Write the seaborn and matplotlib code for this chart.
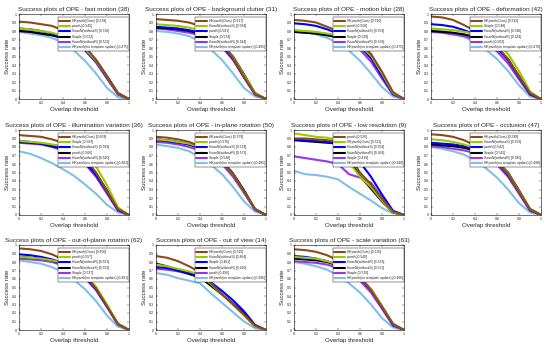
import matplotlib
matplotlib.use('Agg')
import matplotlib.pyplot as plt
import pandas as pd
import numpy as np
import seaborn as sns

thresholds = [0.0, 0.1, 0.2, 0.3, 0.4, 0.5, 0.6, 0.7, 0.8, 0.9, 1.0]

# colours are given by rank, like the OTB toolkit
rank_colors = ['#8c4a1c', '#99cc00', '#0000ff', '#000000', '#9933ee', '#80bfea']

OURS = 'HKpanth(Ours)'
PANTH = 'panth'
HS = 'HoanN(withoutS)'
HR = 'HoanN(withoutR)'
STAPLE = 'Staple'
NOUPD = 'HKpanth(no template update)'

# ---- fast motion
fm_title = 'Success plots of OPE - fast motion (38)'
fm_names = [OURS, PANTH, HS, STAPLE, HR, NOUPD]
fm_scores = [0.578, 0.545, 0.536, 0.532, 0.532, 0.475]
fm_curves = [
    [0.91, 0.90, 0.88, 0.86, 0.81, 0.74, 0.62, 0.46, 0.26, 0.06, 0],
    [0.83, 0.82, 0.80, 0.78, 0.74, 0.68, 0.59, 0.45, 0.26, 0.06, 0],
    [0.83, 0.82, 0.80, 0.77, 0.73, 0.67, 0.58, 0.44, 0.25, 0.06, 0],
    [0.80, 0.79, 0.77, 0.75, 0.72, 0.67, 0.59, 0.46, 0.27, 0.07, 0],
    [0.80, 0.79, 0.77, 0.75, 0.71, 0.66, 0.57, 0.43, 0.24, 0.05, 0],
    [0.79, 0.77, 0.75, 0.72, 0.66, 0.57, 0.45, 0.30, 0.13, 0.02, 0],
]

# ---- background clutter
bc_title = 'Success plots of OPE - background clutter (31)'
bc_names = [OURS, HS, PANTH, STAPLE, HR, NOUPD]
bc_scores = [0.617, 0.584, 0.581, 0.574, 0.544, 0.495]
bc_curves = [
    [0.94, 0.93, 0.92, 0.90, 0.86, 0.78, 0.66, 0.48, 0.26, 0.06, 0],
    [0.88, 0.87, 0.86, 0.84, 0.81, 0.75, 0.65, 0.49, 0.28, 0.07, 0],
    [0.85, 0.84, 0.83, 0.81, 0.78, 0.73, 0.63, 0.47, 0.26, 0.06, 0],
    [0.84, 0.83, 0.82, 0.80, 0.77, 0.72, 0.64, 0.50, 0.29, 0.07, 0],
    [0.83, 0.82, 0.80, 0.78, 0.75, 0.70, 0.61, 0.46, 0.25, 0.05, 0],
    [0.80, 0.79, 0.77, 0.74, 0.68, 0.58, 0.46, 0.30, 0.13, 0.03, 0],
]

# ---- motion blur
mb_title = 'Success plots of OPE - motion blur (28)'
mb_names = [OURS, PANTH, HS, STAPLE, HR, NOUPD]
mb_scores = [0.590, 0.558, 0.553, 0.539, 0.538, 0.475]
mb_curves = [
    [0.93, 0.92, 0.90, 0.85, 0.80, 0.74, 0.66, 0.53, 0.32, 0.08, 0],
    [0.81, 0.80, 0.79, 0.77, 0.75, 0.71, 0.63, 0.51, 0.30, 0.07, 0],
    [0.89, 0.88, 0.86, 0.82, 0.77, 0.71, 0.62, 0.48, 0.27, 0.06, 0],
    [0.79, 0.78, 0.77, 0.75, 0.73, 0.69, 0.62, 0.50, 0.30, 0.07, 0],
    [0.79, 0.78, 0.77, 0.75, 0.72, 0.67, 0.58, 0.44, 0.24, 0.05, 0],
    [0.81, 0.79, 0.76, 0.72, 0.66, 0.57, 0.45, 0.30, 0.14, 0.03, 0],
]

# ---- deformation
df_title = 'Success plots of OPE - deformation (42)'
df_names = [OURS, STAPLE, HS, HR, PANTH, NOUPD]
df_scores = [0.592, 0.548, 0.546, 0.544, 0.503, 0.478]
df_curves = [
    [0.97, 0.96, 0.93, 0.87, 0.80, 0.72, 0.62, 0.47, 0.27, 0.07, 0],
    [0.83, 0.82, 0.81, 0.79, 0.77, 0.73, 0.66, 0.53, 0.33, 0.09, 0],
    [0.88, 0.87, 0.85, 0.81, 0.76, 0.69, 0.60, 0.46, 0.26, 0.06, 0],
    [0.80, 0.79, 0.78, 0.76, 0.73, 0.68, 0.60, 0.47, 0.27, 0.06, 0],
    [0.79, 0.78, 0.76, 0.74, 0.70, 0.65, 0.56, 0.42, 0.23, 0.05, 0],
    [0.82, 0.80, 0.77, 0.73, 0.67, 0.58, 0.47, 0.33, 0.16, 0.03, 0],
]

# ---- illumination variation
iv_title = 'Success plots of OPE - illumination variation (36)'
iv_names = [OURS, STAPLE, HS, PANTH, HR, NOUPD]
iv_scores = [0.603, 0.593, 0.569, 0.566, 0.540, 0.403]
iv_curves = [
    [0.94, 0.93, 0.92, 0.89, 0.85, 0.78, 0.67, 0.50, 0.28, 0.07, 0],
    [0.87, 0.86, 0.85, 0.83, 0.81, 0.77, 0.70, 0.57, 0.35, 0.09, 0],
    [0.87, 0.86, 0.84, 0.82, 0.78, 0.72, 0.62, 0.47, 0.27, 0.06, 0],
    [0.86, 0.85, 0.84, 0.81, 0.78, 0.72, 0.63, 0.49, 0.29, 0.07, 0],
    [0.85, 0.84, 0.83, 0.80, 0.76, 0.70, 0.60, 0.45, 0.25, 0.05, 0],
    [0.75, 0.72, 0.67, 0.61, 0.54, 0.46, 0.36, 0.25, 0.12, 0.03, 0],
]

# ---- in-plane rotation
ipr_title = 'Success plots of OPE - in-plane rotation (50)'
ipr_names = [OURS, PANTH, HS, HR, STAPLE, NOUPD]
ipr_scores = [0.579, 0.576, 0.574, 0.573, 0.548, 0.485]
ipr_curves = [
    [0.92, 0.91, 0.89, 0.86, 0.81, 0.74, 0.63, 0.48, 0.27, 0.07, 0],
    [0.89, 0.88, 0.86, 0.84, 0.80, 0.73, 0.63, 0.48, 0.27, 0.07, 0],
    [0.88, 0.87, 0.85, 0.83, 0.79, 0.73, 0.63, 0.48, 0.28, 0.07, 0],
    [0.89, 0.88, 0.86, 0.83, 0.79, 0.73, 0.64, 0.49, 0.29, 0.07, 0],
    [0.86, 0.85, 0.83, 0.80, 0.76, 0.70, 0.60, 0.45, 0.26, 0.06, 0],
    [0.83, 0.81, 0.79, 0.75, 0.68, 0.59, 0.48, 0.33, 0.16, 0.04, 0],
]

# ---- low resolution
lr_title = 'Success plots of OPE - low resolution (9)'
lr_names = [PANTH, OURS, HS, HR, STAPLE, NOUPD]
lr_scores = [0.526, 0.511, 0.508, 0.492, 0.418, 0.348]
lr_curves = [
    [0.90, 0.90, 0.89, 0.88, 0.86, 0.70, 0.50, 0.36, 0.19, 0.04, 0],
    [0.96, 0.94, 0.92, 0.91, 0.88, 0.62, 0.45, 0.33, 0.17, 0.03, 0],
    [0.89, 0.88, 0.87, 0.86, 0.85, 0.75, 0.62, 0.45, 0.24, 0.05, 0],
    [0.88, 0.87, 0.86, 0.85, 0.84, 0.65, 0.46, 0.31, 0.16, 0.03, 0],
    [0.69, 0.67, 0.65, 0.63, 0.60, 0.48, 0.44, 0.38, 0.20, 0.04, 0],
    [0.52, 0.48, 0.47, 0.45, 0.42, 0.33, 0.25, 0.17, 0.08, 0.02, 0],
]

# ---- occlusion
oc_title = 'Success plots of OPE - occlusion (47)'
oc_names = [OURS, HS, PANTH, STAPLE, HR, NOUPD]
oc_scores = [0.589, 0.559, 0.542, 0.542, 0.540, 0.498]
oc_curves = [
    [0.95, 0.94, 0.92, 0.88, 0.82, 0.74, 0.63, 0.48, 0.27, 0.07, 0],
    [0.89, 0.88, 0.86, 0.83, 0.79, 0.73, 0.63, 0.49, 0.28, 0.07, 0],
    [0.85, 0.84, 0.83, 0.81, 0.77, 0.71, 0.62, 0.47, 0.27, 0.06, 0],
    [0.83, 0.82, 0.81, 0.79, 0.76, 0.71, 0.63, 0.50, 0.29, 0.07, 0],
    [0.81, 0.80, 0.78, 0.76, 0.73, 0.68, 0.59, 0.45, 0.25, 0.05, 0],
    [0.80, 0.78, 0.75, 0.71, 0.64, 0.55, 0.44, 0.30, 0.14, 0.03, 0],
]

# ---- out-of-plane rotation
opr_title = 'Success plots of OPE - out-of-plane rotation (62)'
opr_names = [OURS, PANTH, HR, HS, STAPLE, NOUPD]
opr_scores = [0.606, 0.557, 0.553, 0.552, 0.537, 0.491]
opr_curves = [
    [0.96, 0.95, 0.93, 0.89, 0.83, 0.75, 0.64, 0.49, 0.28, 0.07, 0],
    [0.86, 0.85, 0.84, 0.82, 0.79, 0.74, 0.65, 0.51, 0.30, 0.07, 0],
    [0.89, 0.88, 0.86, 0.83, 0.79, 0.73, 0.63, 0.48, 0.28, 0.07, 0],
    [0.86, 0.85, 0.84, 0.82, 0.78, 0.72, 0.63, 0.49, 0.28, 0.07, 0],
    [0.84, 0.83, 0.82, 0.80, 0.76, 0.70, 0.61, 0.47, 0.27, 0.06, 0],
    [0.82, 0.80, 0.78, 0.74, 0.68, 0.59, 0.48, 0.34, 0.17, 0.04, 0],
]

# ---- out of view
ov_title = 'Success plots of OPE - out of view (14)'
ov_names = [OURS, HS, STAPLE, HR, PANTH, NOUPD]
ov_scores = [0.515, 0.464, 0.461, 0.460, 0.456, 0.386]
ov_curves = [
    [0.87, 0.85, 0.81, 0.75, 0.68, 0.55, 0.42, 0.30, 0.18, 0.05, 0],
    [0.77, 0.75, 0.72, 0.69, 0.65, 0.54, 0.42, 0.30, 0.17, 0.04, 0],
    [0.74, 0.73, 0.70, 0.67, 0.63, 0.56, 0.46, 0.35, 0.22, 0.06, 0],
    [0.78, 0.75, 0.70, 0.66, 0.62, 0.52, 0.42, 0.31, 0.19, 0.05, 0],
    [0.72, 0.71, 0.69, 0.66, 0.62, 0.53, 0.42, 0.31, 0.18, 0.04, 0],
    [0.67, 0.65, 0.61, 0.58, 0.55, 0.43, 0.32, 0.21, 0.10, 0.02, 0],
]

# ---- scale variation
sv_title = 'Success plots of OPE - scale variation (63)'
sv_names = [OURS, PANTH, HR, HS, STAPLE, NOUPD]
sv_scores = [0.576, 0.540, 0.533, 0.531, 0.519, 0.486]
sv_curves = [
    [0.95, 0.94, 0.92, 0.88, 0.82, 0.73, 0.62, 0.47, 0.27, 0.07, 0],
    [0.86, 0.85, 0.84, 0.81, 0.77, 0.71, 0.62, 0.48, 0.28, 0.07, 0],
    [0.87, 0.86, 0.84, 0.81, 0.77, 0.70, 0.61, 0.47, 0.27, 0.06, 0],
    [0.84, 0.83, 0.82, 0.80, 0.76, 0.70, 0.62, 0.48, 0.28, 0.07, 0],
    [0.81, 0.80, 0.79, 0.77, 0.73, 0.67, 0.58, 0.44, 0.25, 0.05, 0],
    [0.80, 0.78, 0.75, 0.71, 0.64, 0.55, 0.44, 0.30, 0.14, 0.03, 0],
]

panels = [
    (fm_title, fm_names, fm_scores, fm_curves),
    (bc_title, bc_names, bc_scores, bc_curves),
    (mb_title, mb_names, mb_scores, mb_curves),
    (df_title, df_names, df_scores, df_curves),
    (iv_title, iv_names, iv_scores, iv_curves),
    (ipr_title, ipr_names, ipr_scores, ipr_curves),
    (lr_title, lr_names, lr_scores, lr_curves),
    (oc_title, oc_names, oc_scores, oc_curves),
    (opr_title, opr_names, opr_scores, opr_curves),
    (ov_title, ov_names, ov_scores, ov_curves),
    (sv_title, sv_names, sv_scores, sv_curves),
]

sns.set_style('white')
plt.rcParams['font.family'] = ['Liberation Sans', 'DejaVu Sans']

W, H = 550, 348
fig = plt.figure(figsize=(5.5, 3.48), dpi=100)

col_left = [19, 156, 294, 431]
row_top = [14, 130, 245]
ax_w, ax_h = 110, 85

for k, (title, names, scores, curves) in enumerate(panels):
    r, c = divmod(k, 4)
    ax = fig.add_axes([col_left[c] / W, 1 - (row_top[r] + ax_h) / H, ax_w / W, ax_h / H])

    labels = [f'{n} [{s:.3f}]' for n, s in zip(names, scores)]
    rows = []
    for lab, vals in zip(labels, curves):
        for t, v in zip(thresholds, vals):
            rows.append((t, v, lab))
    data = pd.DataFrame(rows, columns=['threshold', 'rate', 'tracker'])

    # draw worst first so the best sits on top
    for lab, col in list(zip(labels, rank_colors))[::-1]:
        sns.lineplot(data=data[data['tracker'] == lab], x='threshold', y='rate',
                     color=col, linewidth=1.5, ax=ax, label=lab)

    handles, labs = ax.get_legend_handles_labels()
    handles, labs = handles[::-1], labs[::-1]
    ax.legend(handles, labs, loc='upper right', bbox_to_anchor=(1.0, 0.96),
              fontsize=2.4, frameon=True, fancybox=False, edgecolor='black',
              framealpha=1, handlelength=3.2, handletextpad=0.6,
              borderpad=0.4, labelspacing=0.4, borderaxespad=0)
    ax.get_legend().get_frame().set_linewidth(0.3)

    ax.set_xlim(0, 1)
    ax.set_ylim(0, 1)
    ax.set_xticks([0, 0.2, 0.4, 0.6, 0.8, 1])
    ax.set_xticklabels(['0', '0.2', '0.4', '0.6', '0.8', '1'])
    ax.set_yticks(np.round(np.arange(0, 1.01, 0.1), 1))
    ax.set_yticklabels(['0', '0.1', '0.2', '0.3', '0.4', '0.5', '0.6', '0.7', '0.8', '0.9', '1'])
    ax.tick_params(labelsize=2.6, length=1.5, width=0.3, direction='in', pad=1.5,
                   top=True, right=True, bottom=True, left=True)
    for sp in ax.spines.values():
        sp.set_linewidth(0.4)
        sp.set_color('black')
    ax.set_title(title, fontsize=4.6, pad=2)
    ax.set_xlabel('Overlap threshold', fontsize=4.4, labelpad=1.5)
    ax.set_ylabel('Success rate', fontsize=4.4, labelpad=1.5)

fig.savefig('out.png', dpi=100)
